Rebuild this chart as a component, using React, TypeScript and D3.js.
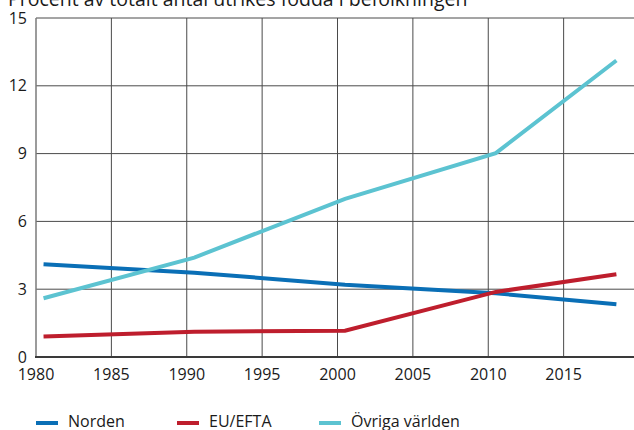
import React from "react";
import * as d3 from "d3";

const years = [1980, 1990, 2000, 2010, 2018];
const norden = [4.1, 3.73, 3.2, 2.82, 2.33];
const euEfta = [0.91, 1.12, 1.16, 2.88, 3.66];
const ovriga = [2.6, 4.4, 7.0, 9.02, 13.12];
const seriesNames = ["Norden", "EU/EFTA", "Övriga världen"];
const seriesColors = ["#0a6fb6", "#be1e2d", "#5cc3d1"];
const xTicks = [1980, 1985, 1990, 1995, 2000, 2005, 2010, 2015];
const yTicks = [0, 3, 6, 9, 12, 15];
const title = "Procent av totalt antal utrikes födda i befolkningen";

const W = 634;
const H = 430;
const FONT = "'Open Sans', sans-serif";

export default function App() {
  const x = d3.scaleLinear().domain([1980, 2020]).range([36, 639]);
  const y = d3.scaleLinear().domain([0, 15]).range([357, 18]);
  const series = [norden, euEfta, ovriga];
  const line = d3
    .line<number>()
    .x((_, i) => x(years[i] + 0.5))
    .y((d) => y(d));
  const legendX = [36, 177, 319];

  return (
    <svg
      width={W}
      height={H}
      style={{ position: "absolute", left: 0, top: 0, background: "#fff" }}
      fontFamily={FONT}
    >
      <text x={8} y={6} fontSize={19.5} fill="#1a1a1a">
        {title}
      </text>
      {yTicks.filter((t) => t > 0).map((t) => (
        <line key={"h" + t} x1={36} x2={W} y1={y(t)} y2={y(t)} stroke="#4a4a4a" strokeWidth={1} />
      ))}
      {xTicks.filter((t) => t > 1980).map((t) => (
        <line key={"v" + t} x1={x(t)} x2={x(t)} y1={18} y2={357} stroke="#4a4a4a" strokeWidth={1} />
      ))}
      <line x1={36} x2={36} y1={18} y2={357} stroke="#7a7a7a" strokeWidth={1.5} />
      {series.map((s, i) => (
        <path key={i} d={line(s) || ""} fill="none" stroke={seriesColors[i]} strokeWidth={4} />
      ))}
      <line x1={35} x2={W} y1={357} y2={357} stroke="#3a3a3a" strokeWidth={2} />
      {yTicks.map((t) => (
        <text key={"yl" + t} x={27} y={y(t)} dy="0.35em" textAnchor="end" fontSize={16} fill="#1a1a1a">
          {t}
        </text>
      ))}
      {xTicks.map((t) => (
        <text key={"xl" + t} x={x(t)} y={380} textAnchor="middle" fontSize={16} fill="#1a1a1a">
          {t}
        </text>
      ))}
      {seriesNames.map((n, i) => (
        <g key={n}>
          <line x1={legendX[i]} x2={legendX[i] + 22} y1={423} y2={423} stroke={seriesColors[i]} strokeWidth={4} />
          <text x={legendX[i] + 32} y={427} fontSize={16} fill="#1a1a1a">
            {n}
          </text>
        </g>
      ))}
    </svg>
  );
}
